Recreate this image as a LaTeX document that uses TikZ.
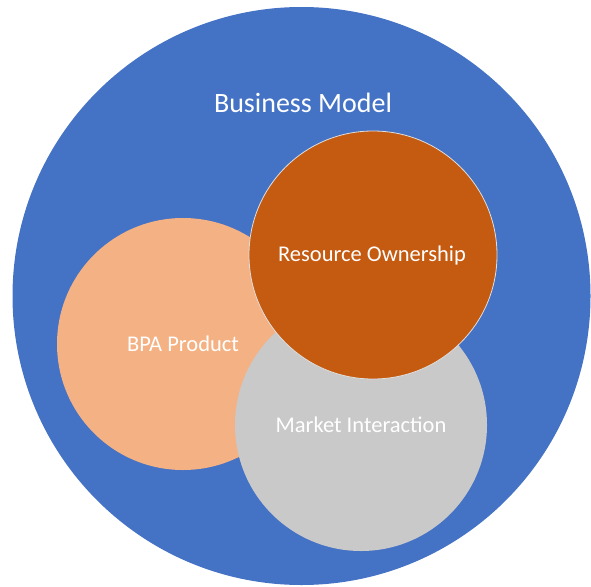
\documentclass[tikz,border=0pt]{standalone}
\usepackage{fontspec}
\setmainfont{Carlito}
\definecolor{bmblue}{HTML}{4472C4}
\definecolor{roorange}{HTML}{C55A11}
\definecolor{bpapeach}{HTML}{F4B183}
\definecolor{migray}{HTML}{C9C9C9}
\begin{document}
\begin{tikzpicture}[x=1pt,y=-1pt,
  disc/.style={circle,inner sep=0pt,draw=none},
  lbl/.style={text=white,font=\fontsize{22.5}{24}\selectfont,inner sep=0pt}]
\useasboundingbox (0,0) rectangle (591,586);
\node[disc,fill=bmblue,minimum size=578pt] (bm) at (301.5,296) {};
\node[disc,fill=bpapeach,minimum size=252pt] (bpa) at (183,344) {};
\node[disc,fill=migray,minimum size=252pt] (mi) at (361,425) {};
\node[disc,fill=roorange,draw=white!75!gray,line width=0.8pt,minimum size=248pt] (ro) at (373,255) {};
\node[lbl,font=\fontsize{28}{30}\selectfont] (bmt) at (303,103) {Business Model};
\node[lbl] (bpat) at (183,344) {BPA Product};
\node[lbl] (mit) at (361,425) {Market Interaction};
\node[lbl] (rot) at (372,255) {Resource Ownership};
\end{tikzpicture}
\end{document}
